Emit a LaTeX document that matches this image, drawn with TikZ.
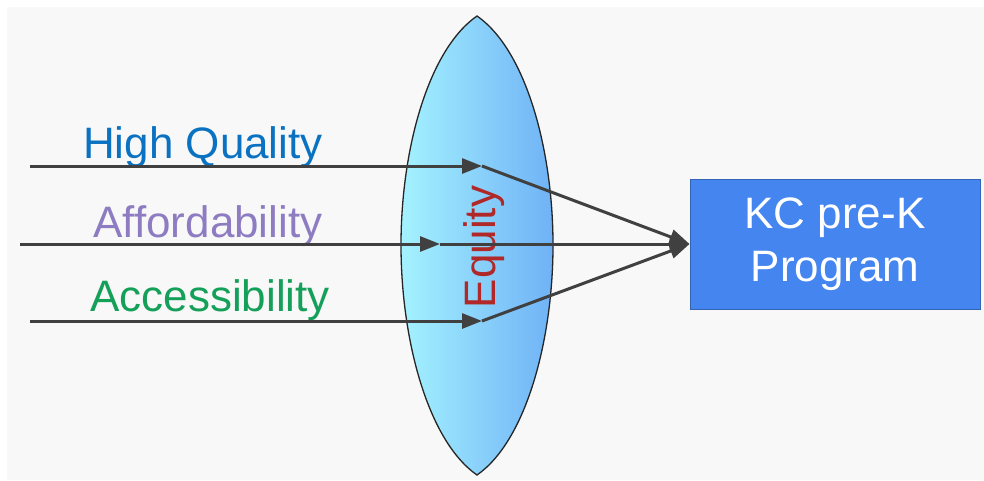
\documentclass[tikz,border=0pt]{standalone}
\usepackage{fontspec}
\setmainfont{Liberation Sans}
\usetikzlibrary{arrows.meta}
\definecolor{bgGray}{HTML}{F8F8F8}
\definecolor{lineGray}{HTML}{404040}
\definecolor{hqBlue}{HTML}{0B72C2}
\definecolor{affPurple}{HTML}{8E7CC3}
\definecolor{accGreen}{HTML}{15A05A}
\definecolor{eqRed}{HTML}{B02828}
\definecolor{lensLeft}{HTML}{A4F2FF}
\definecolor{lensRight}{HTML}{70B2F6}
\definecolor{kcBlue}{HTML}{4485F0}
\begin{document}
\begin{tikzpicture}[x=1pt, y=-1pt, every node/.style={font=\fontsize{44}{53}\selectfont}, >={Triangle[length=20pt,width=15pt]}, ray/.style={->, line width=3pt, draw=lineGray}]
	\useasboundingbox (0,0) rectangle (984,480);
	\fill[white] (0,0) rectangle (984,480);
	\fill[bgGray] (7,7) rectangle (984,480);
	\shadedraw[left color=lensLeft, right color=lensRight, draw=black!85, line width=1.3pt] (477,16) .. controls (428,50) and (401,150) .. (401,245) .. controls (401,340) and (428,441) .. (477,475) .. controls (526,441) and (553,340) .. (553,245) .. controls (553,150) and (526,50) .. (477,16) -- cycle;
	\node[eqRed, rotate=90] (equity) at (484,247) {Equity};
	\node[hqBlue, anchor=base] (hq) at (203,158) {High Quality};
	\node[affPurple, anchor=base] (aff) at (208,237) {Affordability};
	\node[accGreen, anchor=base] (acc) at (210,311) {Accessibility};
	\node[draw=kcBlue!75!black, fill=kcBlue, text=white, line width=1pt, minimum width=290pt, minimum height=130pt, align=center] (kc) at (835,244) {KC pre-K\\Program};
	\coordinate (hqIn) at (30,166);
	\coordinate (hqLens) at (482,166);
	\coordinate (affIn) at (20,244);
	\coordinate (affLens) at (440,244);
	\coordinate (accIn) at (30,321);
	\coordinate (accLens) at (482,321);
	\draw[ray] (hqIn) -- (hqLens);
	\draw[ray] (affIn) -- (affLens);
	\draw[ray] (accIn) -- (accLens);
	\draw[ray] (hqLens) -- (kc.west);
	\draw[ray] (affLens) -- (kc.west);
	\draw[ray] (accLens) -- (kc.west);
\end{tikzpicture}
\end{document}
